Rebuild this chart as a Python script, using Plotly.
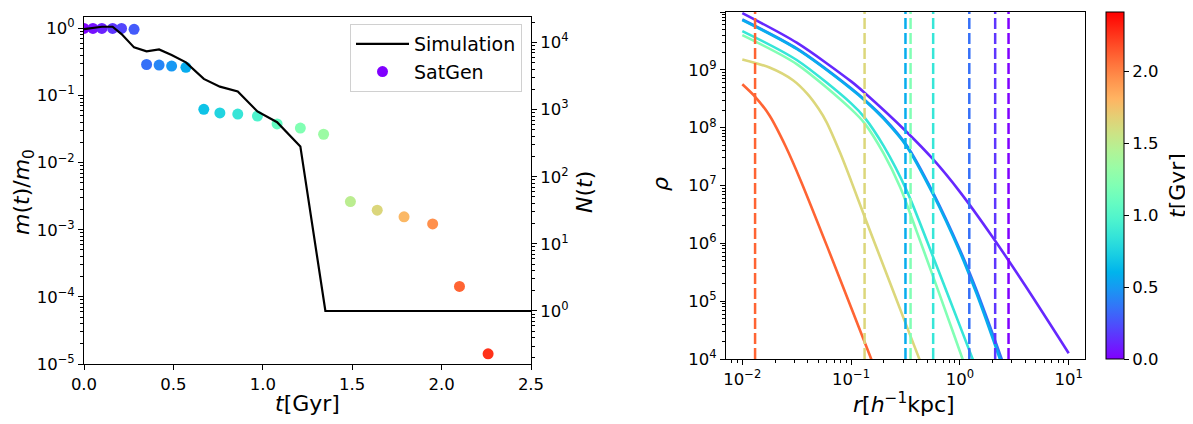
import math
import plotly.graph_objects as go

# ---------------- data: left panel ----------------
t_sim = [0.0, 0.05, 0.10, 0.16, 0.21, 0.28, 0.35, 0.42, 0.49, 0.57, 0.67, 0.76, 0.86,
         0.97, 1.08, 1.21, 1.35, 1.49, 1.64, 1.79, 1.95, 2.10, 2.26, 2.41, 2.56]
N_sim = [15850, 16600, 17180, 17180, 13370, 8450, 7380, 7890, 6520, 5060, 2870, 2200, 1860,
         940, 650, 283, 1, 1, 1, 1, 1, 1, 1, 1, 1]

t_sat = [0.0, 0.05, 0.10, 0.16, 0.21, 0.28, 0.35, 0.42, 0.49, 0.57, 0.67, 0.76, 0.86,
         0.97, 1.08, 1.21, 1.34, 1.49, 1.64, 1.79, 1.95, 2.10, 2.26]
m_sat = [1.0, 1.0, 1.0, 1.0, 1.0, 0.97, 0.29, 0.284, 0.275, 0.263, 0.0623, 0.055, 0.053,
         0.0495, 0.0377, 0.0328, 0.0265, 0.00263, 0.00196, 0.00156, 0.00122, 1.43e-4, 1.42e-5]

t_ticks = [0.0, 0.5, 1.0, 1.5, 2.0, 2.5]
t_ticktext = ["0.0", "0.5", "1.0", "1.5", "2.0", "2.5"]
m_tickvals = [1e-5, 1e-4, 1e-3, 1e-2, 1e-1, 1]
m_ticktext = ["10<sup>−5</sup>", "10<sup>−4</sup>", "10<sup>−3</sup>", "10<sup>−2</sup>",
              "10<sup>−1</sup>", "10<sup>0</sup>"]
N_tickvals = [1, 10, 100, 1000, 10000]
N_ticktext = ["10<sup>0</sup>", "10<sup>1</sup>", "10<sup>2</sup>", "10<sup>3</sup>", "10<sup>4</sup>"]

# ---------------- data: right panel (log10 r, log10 rho) ----------------
prof_t = [0.12, 0.35, 0.57, 0.86, 1.21, 1.64, 2.10]
prof_logr = [
    [-2.0, -1.5, -1.0, -0.874, -0.491, -0.245, 0.0, 0.3, 0.6, 1.0],
    [-2.0, -1.5, -1.0, -0.874, -0.7, -0.491, -0.245, 0.0, 0.153, 0.25, 0.375, 0.42],
    [-2.0, -1.5, -1.0, -0.874, -0.7, -0.491, -0.245, 0.0, 0.153, 0.25, 0.375, 0.42],
    [-2.0, -1.5, -1.0, -0.874, -0.7, -0.491, -0.245, -0.1, 0.107, 0.15],
    [-2.0, -1.5, -1.0, -0.874, -0.7, -0.549, -0.4, -0.245, -0.1, 0.015, 0.1],
    [-2.0, -1.75, -1.534, -1.4, -1.3, -1.227, -1.1, -1.0, -0.874, -0.7, -0.5, -0.383, -0.3],
    [-2.0, -1.88, -1.75, -1.6, -1.46, -1.2, -1.0, -0.813, -0.75],
]
prof_logrho = [
    [9.98, 9.47, 8.80, 8.60, 7.93, 7.45, 6.89, 6.11, 5.27, 4.10],
    [9.87, 9.37, 8.68, 8.48, 8.17, 7.70, 6.87, 5.89, 5.19, 4.70, 4.05, 3.80],
    [9.86, 9.36, 8.67, 8.47, 8.15, 7.68, 6.84, 5.85, 5.13, 4.63, 3.96, 3.70],
    [9.67, 9.17, 8.42, 8.17, 7.68, 6.92, 5.76, 5.06, 4.05, 3.84],
    [9.60, 9.10, 8.32, 8.07, 7.55, 6.97, 6.22, 5.42, 4.66, 4.05, 3.60],
    [9.18, 9.04, 8.82, 8.58, 8.33, 8.10, 7.56, 7.08, 6.45, 5.60, 4.62, 4.05, 3.65],
    [8.75, 8.53, 8.21, 7.67, 7.07, 5.85, 4.89, 3.99, 3.69],
]
r_tidal = [2.80, 2.11, 1.22, 0.316, 0.568, 0.352, 0.133, 0.0131]
t_tidal = [0.0, 0.16, 0.35, 0.57, 0.86, 1.21, 1.64, 2.10]

r_tickvals = [0.01, 0.1, 1, 10]
r_ticktext = ["10<sup>−2</sup>", "10<sup>−1</sup>", "10<sup>0</sup>", "10<sup>1</sup>"]
rho_tickvals = [1e4, 1e5, 1e6, 1e7, 1e8, 1e9, 1e10]
rho_ticktext = ["10<sup>4</sup>", "10<sup>5</sup>", "10<sup>6</sup>", "10<sup>7</sup>",
                "10<sup>8</sup>", "10<sup>9</sup>", "10<sup>10</sup>"]
cbar_ticks = [0.0, 0.5, 1.0, 1.5, 2.0]
cbar_ticktext = ["0.0", "0.5", "1.0", "1.5", "2.0"]
T_MAX = 2.41

# ---------------- styling helpers ----------------
OFF = 8                      # page offset of the plot div (body margin)
W, H = 1193 - OFF, 424 - OFF
ML, MR, MT, MB = 50, 100, 0, 52
PW, PH = W - ML - MR, H - MT - MB
FONT = "DejaVu Sans"


def rainbow(x):
    x = min(max(x, 0.0), 1.0)
    r = min(max(abs(2 * x - 0.5), 0), 1)
    g = min(max(math.sin(math.pi * x), 0), 1)
    b = min(max(math.cos(math.pi * x / 2), 0), 1)
    return "rgb(%d,%d,%d)" % (round(r * 255), round(g * 255), round(b * 255))


rainbow_scale = [[i / 20, rainbow(i / 20)] for i in range(21)]


def minor_vals(e0, e1):
    return [k * 10 ** e for e in range(e0, e1) for k in range(2, 10)]


def px_x(p):
    return (p - OFF - ML) / PW


def px_y(p):
    return (H - MB - (p - OFF)) / PH


tickfont = dict(family=FONT, size=16.5, color="black")

fig = go.Figure()

# left panel: SatGen dots
fig.add_trace(go.Scatter(
    x=t_sat, y=m_sat, mode="markers", xaxis="x", yaxis="y", showlegend=False,
    marker=dict(size=11, color=t_sat, coloraxis="coloraxis", line=dict(width=0)),
))
# simulation line (twin axis)
fig.add_trace(go.Scatter(
    x=t_sim, y=N_sim, mode="lines", xaxis="x", yaxis="y2", name="Simulation",
    line=dict(color="black", width=2.2),
))
# legend stand-in for SatGen
fig.add_trace(go.Scatter(
    x=[None], y=[None], mode="markers", xaxis="x", yaxis="y", name="SatGen",
    marker=dict(size=11, color=rainbow(0.0)),
))

# right panel: density profiles
for tt, lr, lrho in zip(prof_t, prof_logr, prof_logrho):
    fig.add_trace(go.Scatter(
        x=[10 ** v for v in lr], y=[10 ** v for v in lrho], mode="lines",
        xaxis="x3", yaxis="y3", showlegend=False,
        line=dict(color=rainbow(tt / T_MAX), width=2.6, shape="spline", smoothing=0.8),
    ))

shapes = []
for rt, tt in zip(r_tidal, t_tidal):
    shapes.append(dict(type="line", xref="x3", yref="y3 domain",
                       x0=rt, x1=rt, y0=0, y1=1,
                       line=dict(color=rainbow(tt / T_MAX), width=2.5, dash="11px,4px")))

axis_common = dict(showline=True, linecolor="black", linewidth=1, mirror=True,
                   ticks="outside", ticklen=5, tickwidth=1, tickcolor="black",
                   showgrid=False, zeroline=False, tickfont=tickfont, automargin=False)

fig.update_layout(
    width=W, height=H,
    margin=dict(l=ML, r=MR, t=MT, b=MB, autoexpand=False),
    paper_bgcolor="white", plot_bgcolor="white",
    font=dict(family=FONT, color="black"),
    xaxis=dict(domain=[px_x(84), px_x(531)], range=[0, 2.5], anchor="y",
               tickvals=t_ticks, ticktext=t_ticktext, **axis_common),
    yaxis=dict(domain=[px_y(364), px_y(17)], type="log", range=[-5, 0.17], anchor="x",
               tickvals=m_tickvals, ticktext=m_ticktext,
               minor=dict(tickvals=minor_vals(-5, 0), ticks="outside", ticklen=3,
                          tickwidth=0.8, tickcolor="black"),
               **axis_common),
    yaxis2=dict(overlaying="y", side="right", type="log", range=[-0.79, 4.38], anchor="x",
                tickvals=N_tickvals, ticktext=N_ticktext,
                minor=dict(tickvals=minor_vals(-1, 5), ticks="outside", ticklen=3,
                           tickwidth=0.8, tickcolor="black"),
                **axis_common),
    xaxis3=dict(domain=[px_x(726), px_x(1085)], type="log", range=[-2.15, 1.15], anchor="y3",
                tickvals=r_tickvals, ticktext=r_ticktext,
                minor=dict(tickvals=minor_vals(-3, 1), ticks="outside", ticklen=3,
                           tickwidth=0.8, tickcolor="black"),
                **axis_common),
    yaxis3=dict(domain=[px_y(359), px_y(12)], type="log", range=[4, 10], anchor="x3",
                tickvals=rho_tickvals, ticktext=rho_ticktext,
                minor=dict(tickvals=minor_vals(4, 10), ticks="outside", ticklen=3,
                           tickwidth=0.8, tickcolor="black"),
                **axis_common),
    coloraxis=dict(
        colorscale=rainbow_scale, cmin=0, cmax=T_MAX,
        colorbar=dict(x=px_x(1106), xanchor="left", xpad=0, y=px_y(12), yanchor="top", ypad=0,
                      len=347 / PH, lenmode="fraction", thickness=18, thicknessmode="pixels",
                      outlinewidth=1, outlinecolor="black",
                      tickvals=cbar_ticks, ticktext=cbar_ticktext,
                      ticks="outside", ticklen=5, tickcolor="black", tickfont=tickfont),
    ),
    legend=dict(x=px_x(350), y=px_y(24), xanchor="left", yanchor="top",
                bgcolor="white", bordercolor="#d0d0d0", borderwidth=1, itemwidth=53,
                font=dict(family=FONT, size=19, color="black"), tracegroupgap=0),
    shapes=shapes,
)

title_font = dict(family=FONT, size=22, color="black")
annots = [
    dict(text="<i>t</i>[Gyr]", x=px_x(307), y=px_y(404), textangle=0),
    dict(text="<i>m</i>(<i>t</i>)/<i>m</i><sub>0</sub>", x=px_x(23), y=px_y(192), textangle=-90),
    dict(text="<i>N</i>(<i>t</i>)", x=px_x(584), y=px_y(192), textangle=-90),
    dict(text="<i>ρ</i>", x=px_x(661), y=px_y(184), textangle=-90),
    dict(text="<i>r</i>[<i>h</i><sup>−1</sup>kpc]", x=px_x(904), y=px_y(403), textangle=0),
    dict(text="<i>t</i>[Gyr]", x=px_x(1177), y=px_y(186), textangle=-90),
]
for a in annots:
    fig.add_annotation(xref="paper", yref="paper", showarrow=False, font=title_font,
                       xanchor="center", yanchor="middle", **a)

fig.write_html("out.html")
